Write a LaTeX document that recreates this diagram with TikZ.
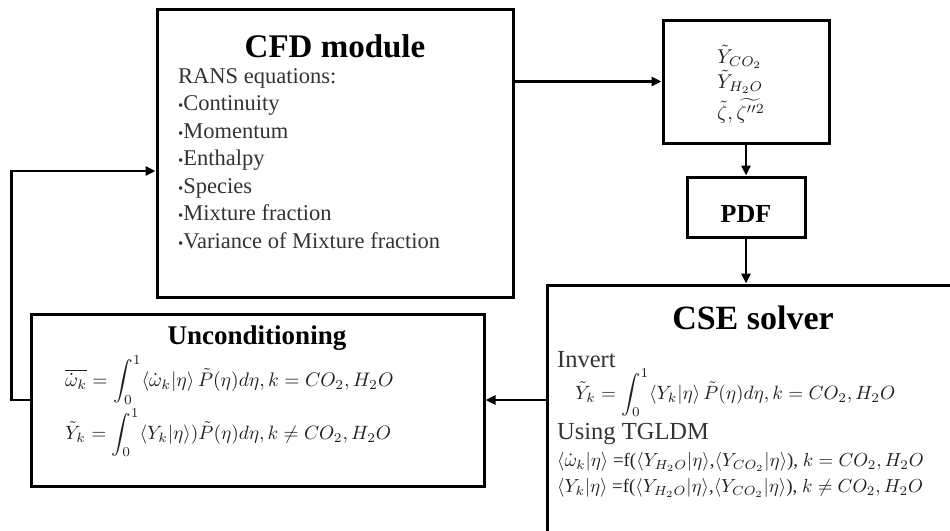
\documentclass[tikz,border=0pt]{standalone}
\usepackage{amsmath,amssymb}
\usepackage{fontspec}
\setmainfont{Liberation Serif}
\usetikzlibrary{arrows.meta}
\newcommand{\mysc}[2]{\scalebox{#1}{\fontsize{10}{10}\selectfont #2}}
\begin{document}
\begin{tikzpicture}[x=1pt,y=-1pt,
  box/.style={draw, line width=3pt, rectangle, inner sep=0pt},
  arr/.style={line width=2.8pt, -{Triangle[length=10pt,width=9pt]}},
  ttl/.style={font=\bfseries\fontsize{#1}{#1}\selectfont, inner sep=0pt},
  body/.style={font=\fontsize{22.5}{22.5}\selectfont, text=black!80, inner sep=0pt, anchor=base west},
  mth/.style={text=black!88, inner sep=0pt, anchor=west}]
\useasboundingbox (0,0) rectangle (950,530);
\clip (0,0) rectangle (950,530);
% boxes
\node[box, minimum width=356pt, minimum height=288pt] (cfd) at (335,153) {};
\node[box, minimum width=166pt, minimum height=123pt] (vars) at (746,81.5) {};
\node[box, minimum width=118pt, minimum height=60pt] (pdf) at (746,207) {};
\node[box, minimum width=412pt, minimum height=247pt] (cse) at (753,408.5) {};
\node[box, minimum width=453pt, minimum height=172pt] (unc) at (257.5,400) {};
% CFD texts
\node[ttl=33, anchor=base] (cfdt) at (335,57) {CFD module};
\newcommand{\bul}{{\fontsize{15}{15}\selectfont\textbullet}}
\node[body] (c1) at (178,83) {RANS equations:};
\node[body] (c2) at (178,110.5) {\bul Continuity};
\node[body] (c3) at (178,138) {\bul Momentum};
\node[body] (c4) at (178,165.5) {\bul Enthalpy};
\node[body] (c5) at (178,193) {\bul Species};
\node[body] (c6) at (178,220.5) {\bul Mixture fraction};
\node[body] (c7) at (178,248) {\bul Variance of Mixture fraction};
% variables box
\node[mth] (v1) at (717,57) {\mysc{2.0}{$\tilde{Y}_{CO_2}$}};
\node[mth] (v2) at (717,82) {\mysc{2.0}{$\tilde{Y}_{H_2O}$}};
\node[mth] (v3) at (717,111) {\mysc{2.0}{$\tilde{\zeta},\widetilde{\zeta''^{2}}$}};
% PDF
\node[ttl=26, anchor=base] (pdft) at (746,222) {PDF};
% CSE
\node[ttl=34, anchor=base] (cset) at (753,329) {CSE solver};
\node[body, font=\fontsize{24.5}{24.5}\selectfont] (inv) at (557,367) {Invert};
\node[mth] (ce1) at (575,393) {\mysc{1.92}{$\displaystyle \tilde{Y}_k = \int_0^1 \langle Y_k|\eta\rangle\,\tilde{P}(\eta)d\eta, k = CO_2, H_2O$}};
\node[body, font=\fontsize{24.5}{24.5}\selectfont] (usg) at (557,439) {Using TGLDM};
\node[mth] (ce2) at (557,462) {\mysc{1.89}{$\langle\dot{\omega}_k|\eta\rangle$ =f($\langle Y_{H_2O}|\eta\rangle$,$\langle Y_{CO_2}|\eta\rangle$), $k = CO_2, H_2O$}};
\node[mth] (ce3) at (557,488) {\mysc{1.89}{$\langle Y_k|\eta\rangle$ =f($\langle Y_{H_2O}|\eta\rangle$,$\langle Y_{CO_2}|\eta\rangle$), $k \neq CO_2, H_2O$}};
% Unconditioning
\node[ttl=27, anchor=base] (unct) at (257,344) {Unconditioning};
\node[mth] (u1) at (65,380) {\mysc{1.96}{$\displaystyle \overline{\dot{\omega}_k} = \int_0^1 \langle\dot{\omega}_k|\eta\rangle\,\tilde{P}(\eta)d\eta, k = CO_2, H_2O$}};
\node[mth] (u2) at (65,433) {\mysc{1.93}{$\displaystyle \tilde{Y}_k = \int_0^1 \langle Y_k|\eta\rangle)\tilde{P}(\eta)d\eta, k \neq CO_2, H_2O$}};
% connectors
\draw[arr] (vars.west -| cfd.east) -- (vars.west);
\draw[arr] (vars.south) -- (pdf.north);
\draw[arr] (pdf.south) -- (pdf.south |- cse.north);
\draw[arr] (unc.east -| cse.west) -- (unc.east);
\draw[arr] (unc.west) -- ++(-18,0) |- ([yshift=-18pt]cfd.west);
\end{tikzpicture}
\end{document}
